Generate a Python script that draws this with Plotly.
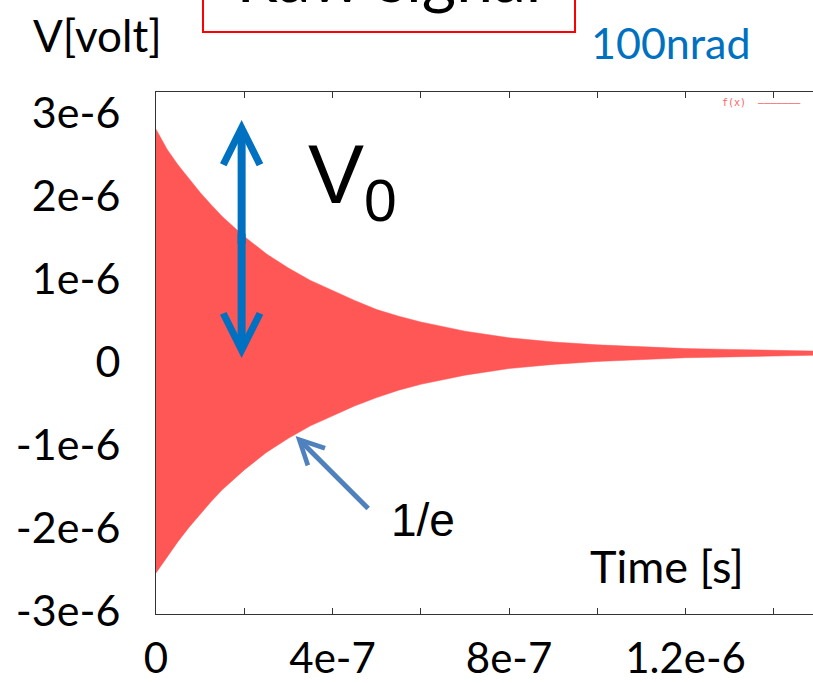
import plotly.graph_objects as go

# ---- data ----
time_s = [0, 0.25e-7, 0.5e-7, 0.75e-7, 1.0e-7, 1.25e-7, 1.5e-7, 1.75e-7, 2.0e-7,
          2.5e-7, 3.0e-7, 3.5e-7, 4.0e-7, 4.5e-7, 5.0e-7, 5.5e-7, 6.0e-7, 7.0e-7,
          8.0e-7, 9.0e-7, 1.0e-6, 1.1e-6, 1.2e-6, 1.3e-6, 1.4e-6, 1.489e-6]
upper_uV = [2.80, 2.56, 2.37, 2.20, 2.04, 1.89, 1.75, 1.63, 1.51, 1.30, 1.13, 0.98,
            0.86, 0.74, 0.63, 0.55, 0.48, 0.37, 0.29, 0.24, 0.205, 0.18, 0.16, 0.15,
            0.14, 0.13]
lower_uV = [-2.54, -2.35, -2.16, -1.99, -1.83, -1.68, -1.54, -1.42, -1.30, -1.09,
            -0.92, -0.77, -0.65, -0.53, -0.43, -0.34, -0.27, -0.16, -0.08, -0.03,
            0.005, 0.03, 0.05, 0.06, 0.07, 0.08]

x_tickvals = [0, 2e-7, 4e-7, 6e-7, 8e-7, 1.0e-6, 1.2e-6, 1.4e-6]
x_ticktext = ["0", "", "4e-7", "", "8e-7", "", "1.2e-6", ""]
y_tickvals = [3e-6, 2e-6, 1e-6, 0, -1e-6, -2e-6, -3e-6]
y_ticktext = ["3e-6", "2e-6", "1e-6", "0", "-1e-6", "-2e-6", "-3e-6"]

upper_v = [v * 1e-6 for v in upper_uV]
lower_v = [v * 1e-6 for v in lower_uV]

RED = "#ff5656"
BLUE = "#0070c0"
BLUE2 = "#4f81bd"
FONT = "Lato"

fig = go.Figure()
fig.add_trace(go.Scatter(x=time_s, y=lower_v, mode="lines",
                         line=dict(color=RED, width=0.5), showlegend=False,
                         hoverinfo="skip"))
fig.add_trace(go.Scatter(x=time_s, y=upper_v, mode="lines", fill="tonexty",
                         fillcolor=RED, line=dict(color=RED, width=0.5),
                         name="f(x)", showlegend=False))

fig.update_layout(
    width=813, height=683,
    margin=dict(l=156, r=0, t=92, b=69),
    plot_bgcolor="white", paper_bgcolor="white",
    font=dict(family=FONT, size=43, color="black"),
    xaxis=dict(range=[0, 1.4887e-6], tickvals=x_tickvals, ticktext=x_ticktext,
               ticks="inside", ticklen=6, tickcolor="#333", showline=True,
               linecolor="#333", linewidth=1, mirror="ticks", showgrid=False,
               zeroline=False, ticklabelstandoff=8, automargin=False,
               tickfont=dict(family=FONT, size=42)),
    yaxis=dict(range=[-3.034e-6, 3.248e-6], tickvals=y_tickvals, ticktext=y_ticktext,
               ticks="", showline=True, linecolor="#333", linewidth=1,
               showgrid=False, zeroline=False, ticklabelstandoff=26, automargin=False,
               tickfont=dict(family=FONT, size=43)),
)

ann = []
# title box (cut off at top)
ann.append(dict(text="Raw signal", xref="paper", yref="paper", x=0.3546, y=1.113,
                xanchor="center", yanchor="bottom", showarrow=False,
                font=dict(family=FONT, size=66, color="black"),
                bordercolor="#ff0000", borderwidth=2, borderpad=15, bgcolor="white",
                width=340, height=150, valign="bottom"))
ann.append(dict(text="V[volt]", xref="paper", yref="paper", x=-0.0898, y=1.109,
                xanchor="center", yanchor="middle", showarrow=False,
                font=dict(family=FONT, size=44, color="black")))
ann.append(dict(text="100nrad", xref="paper", yref="paper", x=0.784, y=1.094,
                xanchor="center", yanchor="middle", showarrow=False,
                font=dict(family=FONT, size=43, color=BLUE)))
ann.append(dict(text="V<sub>0</sub>", xref="paper", yref="paper", x=0.229, y=0.832,
                xanchor="left", yanchor="middle", showarrow=False,
                font=dict(family="Liberation Sans", size=84, color="black")))
ann.append(dict(text="1/e", xref="paper", yref="paper", x=0.406, y=0.180,
                xanchor="center", yanchor="middle", showarrow=False,
                font=dict(family="Liberation Sans", size=46, color="black")))
ann.append(dict(text="Time [s]", xref="paper", yref="paper", x=0.778, y=0.092,
                xanchor="center", yanchor="middle", showarrow=False,
                font=dict(family=FONT, size=45, color="black")))
ann.append(dict(text="f(x)  " + "\u2014" * 7, xref="paper", yref="paper", x=0.985, y=0.979,
                xanchor="right", yanchor="middle", showarrow=False,
                font=dict(family="DejaVu Sans Mono", size=10, color="#ff6060")))
# double arrow V0
for tip, tail in ((2.91e-6, 1.40e-6), (0.047e-6, 1.56e-6)):
    ann.append(dict(x=1.94e-7, y=tip, ax=1.94e-7, ay=tail, xref="x", yref="y",
                    axref="x", ayref="y", text="", showarrow=True, arrowhead=5,
                    arrowwidth=8, arrowsize=0.9, arrowcolor=BLUE, standoff=0))
# 1/e arrow
ann.append(dict(x=3.163e-7, y=-0.892e-6, ax=4.841e-7, ay=-1.782e-6, xref="x", yref="y",
                axref="x", ayref="y", text="", showarrow=True, arrowhead=5,
                arrowwidth=5, arrowsize=0.95, arrowcolor=BLUE2, standoff=0))
fig.update_layout(annotations=ann)

fig.write_html("out.html", config={"displayModeBar": False},
               post_script="document.body.style.margin='0';")
